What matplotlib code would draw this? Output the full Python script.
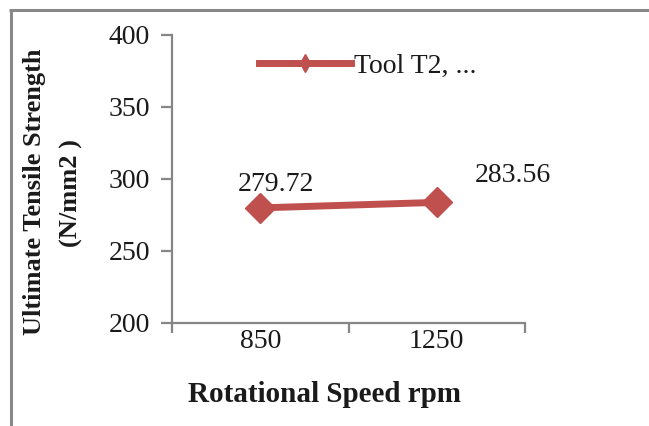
import matplotlib
matplotlib.use("Agg")
import matplotlib.pyplot as plt
from matplotlib.lines import Line2D

categories = ["850", "1250"]
values = [279.72, 283.56]
series_name = "Tool T2, ..."
y_ticks = [200, 250, 300, 350, 400]
value_labels = ["279.72", "283.56"]

W, H = 649, 426
plt.rcParams['font.family'] = ['Liberation Serif', 'DejaVu Serif']
fig = plt.figure(figsize=(W / 100, H / 100), dpi=100)
fig.patch.set_facecolor('white')

left, right, top, bottom = 172, 525, 35, 322.5
ax = fig.add_axes([left / W, 1 - bottom / H, (right - left) / W, (bottom - top) / H])

axis_col = '#868686'
red = '#C0504D'
txt = '#1a1a1a'
fs = 20

xs = [i + 0.5 for i in range(len(categories))]
ax.plot(xs, values, color=red, lw=5, marker='D', markersize=15.5, solid_capstyle='butt', zorder=3, clip_on=False)

ax.set_xlim(0, len(categories))
ax.set_ylim(y_ticks[0], y_ticks[-1])
ax.set_yticks(y_ticks)
ax.set_yticklabels([str(t) for t in y_ticks])
ax.set_xticks(range(len(categories) + 1))
ax.set_xticklabels([])
ax.set_xticks(xs, minor=True)
ax.set_xticklabels(categories, minor=True)

for s in ['top', 'right']:
    ax.spines[s].set_visible(False)
for s in ['left', 'bottom']:
    ax.spines[s].set_color(axis_col)
    ax.spines[s].set_linewidth(1.6)

ax.tick_params(axis='y', which='major', direction='out', length=8, width=1.6, color=axis_col,
               labelsize=fs, labelcolor=txt, pad=8)
ax.tick_params(axis='x', which='major', direction='out', length=7, width=1.6, color=axis_col)
ax.tick_params(axis='x', which='minor', length=0, labelsize=fs, labelcolor=txt, pad=5)

offsets = [(11, 16.5), (55, 19)]
for x, v, lab, off in zip(xs, values, value_labels, offsets):
    ax.annotate(lab, (x, v), xytext=off, textcoords='offset points', ha='center', va='center',
                fontsize=fs, color=txt)

handle = Line2D([], [], color=red, lw=5, marker='d', markersize=9)
ax.legend([handle], [series_name], loc='center left', bbox_to_anchor=(259 / W, 1 - 66 / H),
          bbox_transform=fig.transFigure, frameon=False, fontsize=fs, handlelength=3.3,
          handletextpad=0.12, borderpad=0, borderaxespad=0, labelcolor=txt)

fig.text(35 / W, 1 - 192 / H, "Ultimate Tensile Strength", rotation=90, ha='center', va='center',
         fontsize=19, fontweight='bold', color=txt)
fig.text(71 / W, 1 - 193 / H, "(N/mm2 )", rotation=90, ha='center', va='center',
         fontsize=19, fontweight='bold', color=txt)
fig.text(324 / W, 1 - 395 / H, "Rotational Speed rpm", ha='center', va='center',
         fontsize=21, fontweight='bold', color=txt)

fig.add_artist(Line2D([10.5 / W, 10.5 / W], [0, 1 - 9.5 / H], color='#888888', lw=2.2,
                      transform=fig.transFigure, solid_capstyle='butt'))
fig.add_artist(Line2D([9.4 / W, 1], [1 - 9.5 / H, 1 - 9.5 / H], color='#888888', lw=2.2,
                      transform=fig.transFigure, solid_capstyle='butt'))

fig.savefig('out.png', dpi=100)
